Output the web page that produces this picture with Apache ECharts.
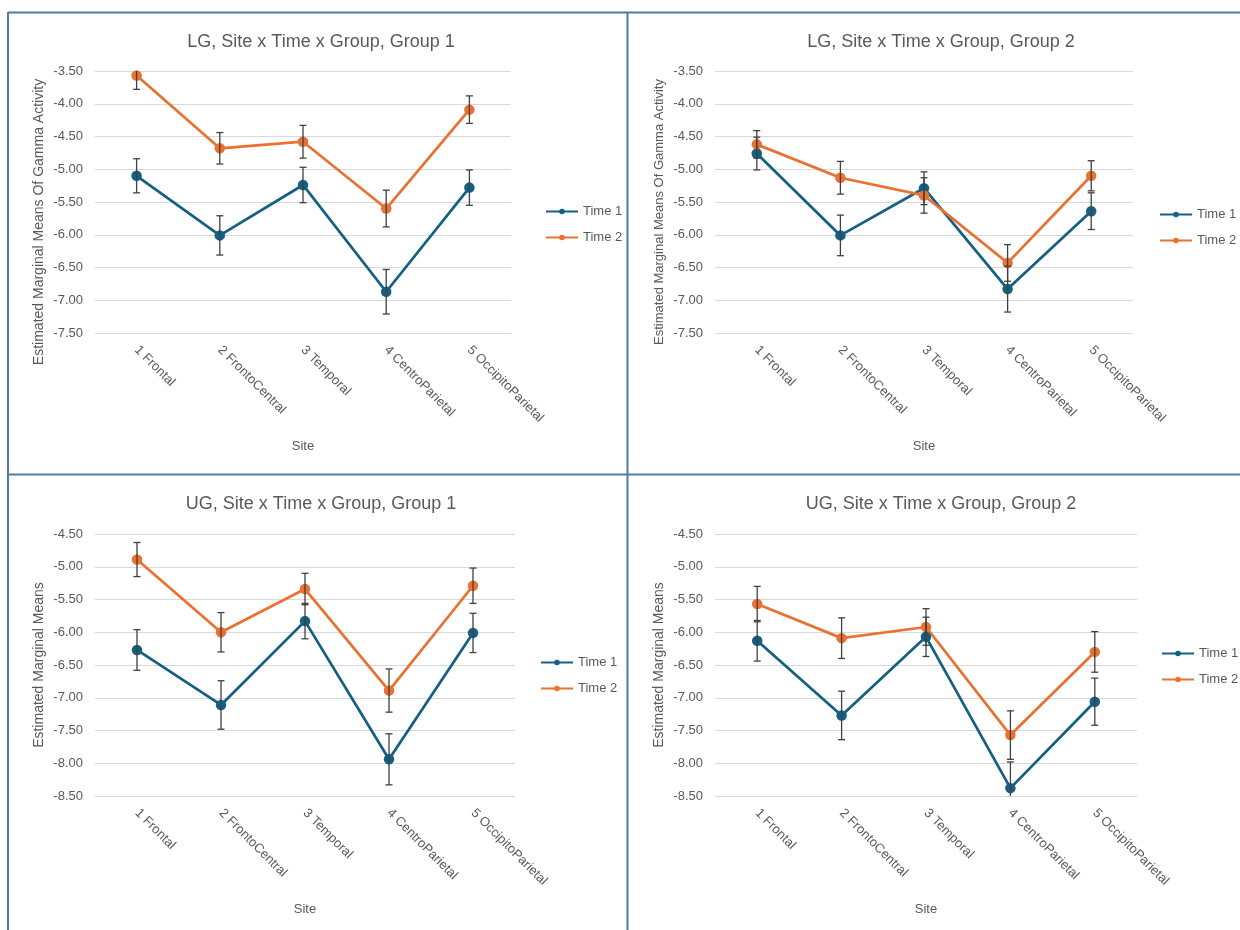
<!DOCTYPE html>
<html>
<head>
<meta charset="utf-8">
<script src="https://cdn.jsdelivr.net/npm/echarts@6/dist/echarts.min.js"></script>
<style>
html,body{margin:0;padding:0;background:#fff;}
#chart{width:1240px;height:930px;}
</style>
</head>
<body>
<div id="chart"></div>
<script>
const categories = ['1 Frontal', '2 FrontoCentral', '3 Temporal', '4 CentroParietal', '5 OccipitoParietal'];
const seriesNames = ['Time 1', 'Time 2'];
const panelTitles = ['LG, Site x Time x Group, Group 1', 'LG, Site x Time x Group, Group 2', 'UG, Site x Time x Group, Group 1', 'UG, Site x Time x Group, Group 2'];
const yAxisNames = ['Estimated Marginal Means Of Gamma Activity', 'Estimated Marginal Means Of Gamma Activity', 'Estimated Marginal Means', 'Estimated Marginal Means'];
const xAxisName = 'Site';
const lgTicks = [-7.5, -3.5, 0.5];
const ugTicks = [-8.5, -4.5, 0.5];

const lgG1Time1 = [-5.10, -6.01, -5.24, -6.87, -5.28];
const lgG1Time1Err = [0.26, 0.30, 0.27, 0.34, 0.27];
const lgG1Time2 = [-3.57, -4.68, -4.58, -5.60, -4.09];
const lgG1Time2Err = [0.21, 0.24, 0.25, 0.28, 0.21];

const lgG2Time1 = [-4.76, -6.01, -5.29, -6.83, -5.64];
const lgG2Time1Err = [0.25, 0.31, 0.25, 0.35, 0.28];
const lgG2Time2 = [-4.62, -5.13, -5.40, -6.43, -5.10];
const lgG2Time2Err = [0.21, 0.25, 0.27, 0.28, 0.23];

const ugG1Time1 = [-6.27, -7.11, -5.83, -7.94, -6.01];
const ugG1Time1Err = [0.31, 0.37, 0.27, 0.39, 0.30];
const ugG1Time2 = [-4.89, -6.00, -5.34, -6.89, -5.29];
const ugG1Time2Err = [0.26, 0.30, 0.24, 0.33, 0.27];

const ugG2Time1 = [-6.13, -7.27, -6.07, -8.38, -7.06];
const ugG2Time1Err = [0.31, 0.37, 0.30, 0.40, 0.36];
const ugG2Time2 = [-5.57, -6.09, -5.92, -7.57, -6.30];
const ugG2Time2Err = [0.27, 0.31, 0.28, 0.37, 0.31];

const panelData = [
  [[lgG1Time1, lgG1Time1Err], [lgG1Time2, lgG1Time2Err]],
  [[lgG2Time1, lgG2Time1Err], [lgG2Time2, lgG2Time2Err]],
  [[ugG1Time1, ugG1Time1Err], [ugG1Time2, ugG1Time2Err]],
  [[ugG2Time1, ugG2Time1Err], [ugG2Time2, ugG2Time2Err]]
];
const panelTicks = [lgTicks, lgTicks, ugTicks, ugTicks];

// layout (positions/styles only)
const FONT = 'Liberation Sans';
const TXT = '#595959';
const colors = ['#156082', '#E97132'];
const grids = [
  {left: 95, top: 71, width: 416, height: 262},
  {left: 715, top: 71, width: 418, height: 262},
  {left: 95, top: 534, width: 420, height: 262},
  {left: 715, top: 534, width: 422, height: 262}
];
const titlePos = [{x: 316, y: 28}, {x: 936, y: 28}, {x: 316, y: 490}, {x: 936, y: 490}];
const legendPos = [{left: 545, top: 205}, {left: 1159, top: 208}, {left: 540, top: 656}, {left: 1161, top: 647}];
const yNameFont = [14, 13, 14, 14];
const yNamePad = [[0, 40, 0, 0], [0, 20, 0, 0], [0, 0, 0, 0], [0, 0, 0, 0]];

const option = {
  animation: false,
  backgroundColor: '#ffffff',
  textStyle: {fontFamily: FONT},
  title: panelTitles.map((t, i) => ({
    text: t, left: titlePos[i].x, top: titlePos[i].y, textAlign: 'center',
    textStyle: {fontFamily: FONT, fontSize: 18, fontWeight: 'normal', color: TXT}
  })),
  legend: legendPos.map((p, i) => ({
    data: seriesNames, orient: 'vertical', left: p.left, top: p.top,
    itemWidth: 32, itemHeight: 7, itemGap: 13, padding: 0,
    textStyle: {fontFamily: FONT, fontSize: 13, color: TXT}
  })),
  grid: grids.map(g => Object.assign({containLabel: false}, g)),
  xAxis: grids.map((g, i) => ({
    type: 'category', gridIndex: i, data: categories, boundaryGap: true,
    axisLine: {show: false}, axisTick: {show: false},
    axisLabel: {rotate: -45, margin: 15, fontFamily: FONT, fontSize: 13, color: TXT, interval: 0},
    name: xAxisName, nameLocation: 'middle', nameGap: 107,
    nameTextStyle: {fontFamily: FONT, fontSize: 13, color: TXT}
  })),
  yAxis: grids.map((g, i) => ({
    type: 'value', gridIndex: i,
    min: panelTicks[i][0], max: panelTicks[i][1], interval: panelTicks[i][2],
    axisLine: {show: false}, axisTick: {show: false},
    axisLabel: {fontFamily: FONT, fontSize: 13, color: TXT, margin: 12, formatter: v => v.toFixed(2)},
    splitLine: {lineStyle: {color: '#d9d9d9', width: 1}},
    name: yAxisNames[i], nameLocation: 'middle', nameGap: 49,
    nameTextStyle: {fontFamily: FONT, fontSize: yNameFont[i], color: TXT, padding: yNamePad[i]}
  })),
  series: [],
  graphic: [
    {type: 'line', shape: {x1: 8, y1: 12.5, x2: 1240, y2: 12.5}, style: {stroke: '#4a7ea3', lineWidth: 2}},
    {type: 'line', shape: {x1: 8, y1: 12, x2: 8, y2: 930}, style: {stroke: '#4a7ea3', lineWidth: 2}},
    {type: 'line', shape: {x1: 627.5, y1: 12, x2: 627.5, y2: 930}, style: {stroke: '#4a7ea3', lineWidth: 2}},
    {type: 'line', shape: {x1: 8, y1: 474.5, x2: 1240, y2: 474.5}, style: {stroke: '#4a7ea3', lineWidth: 2}}
  ]
};

panelData.forEach((panel, pi) => {
  panel.forEach((pair, si) => {
    const means = pair[0];
    option.series.push({
      type: 'line', name: seriesNames[si], xAxisIndex: pi, yAxisIndex: pi,
      data: means, symbol: 'circle', symbolSize: 10.5, showSymbol: true,
      itemStyle: {color: colors[si]}, lineStyle: {color: colors[si], width: 2.75},
      z: 2
    });
  });
  panel.forEach((pair, si) => {
    const means = pair[0], errs = pair[1];
    option.series.push({
      type: 'custom', name: 'err' + pi + '_' + si, xAxisIndex: pi, yAxisIndex: pi,
      clip: true, z: 3,
      data: means.map((m, k) => [k, m, errs[k]]),
      renderItem: function (params, api) {
        const x = api.value(0), m = api.value(1), e = api.value(2);
        const top = api.coord([x, m + e]);
        const bot = api.coord([x, m - e]);
        const cw = 3.5;
        const st = {stroke: '#404040', lineWidth: 1.3};
        return {type: 'group', children: [
          {type: 'line', shape: {x1: top[0], y1: top[1], x2: bot[0], y2: bot[1]}, style: st},
          {type: 'line', shape: {x1: top[0] - cw, y1: top[1], x2: top[0] + cw, y2: top[1]}, style: st},
          {type: 'line', shape: {x1: bot[0] - cw, y1: bot[1], x2: bot[0] + cw, y2: bot[1]}, style: st}
        ]};
      }
    });
  });
});

const chart = echarts.init(document.getElementById('chart'), null, {renderer: 'canvas'});
chart.setOption(option);
</script>
</body>
</html>
